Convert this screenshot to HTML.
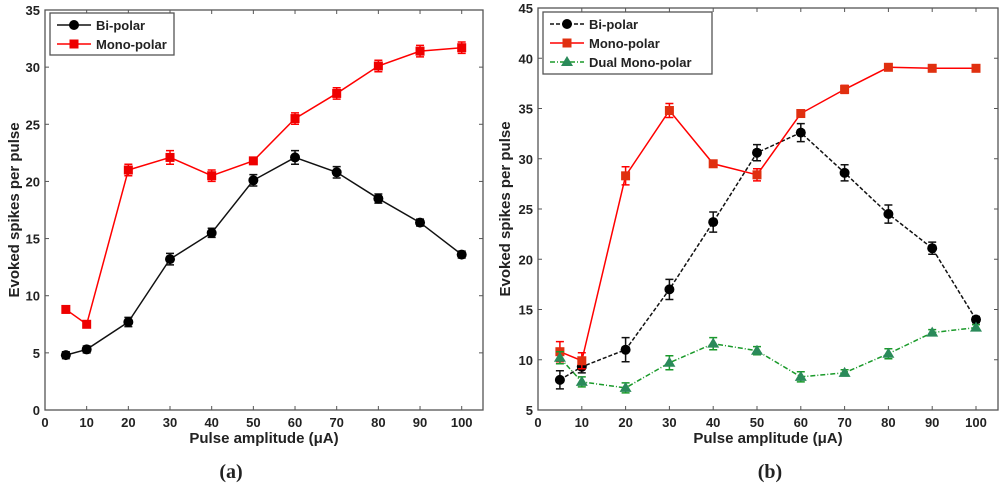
<!DOCTYPE html>
<html><head><meta charset="utf-8"><style>
body{margin:0;background:#fff;width:1000px;height:492px;overflow:hidden}
svg{display:block}
text{font-family:"Liberation Sans",Arial,sans-serif;font-weight:bold;fill:#222}
</style></head><body>
<svg id="c" width="1000" height="492" xmlns="http://www.w3.org/2000/svg"></svg>
<script>
const xVals=[5,10,20,30,40,50,60,70,80,90,100];
const xTicks=[0,10,20,30,40,50,60,70,80,90,100];
const aTicksY=[0,5,10,15,20,25,30,35];
const aBipolar=[4.8,5.3,7.7,13.2,15.5,20.1,22.1,20.8,18.5,16.4,13.6];
const aBipolarErr=[0.3,0.3,0.4,0.5,0.4,0.5,0.6,0.5,0.4,0.3,0.3];
const aMonopolar=[8.8,7.5,21.0,22.1,20.5,21.8,25.5,27.7,30.1,31.4,31.7];
const aMonopolarErr=[0.3,0.3,0.5,0.6,0.5,0.3,0.5,0.5,0.5,0.5,0.5];
const bTicksY=[5,10,15,20,25,30,35,40,45];
const bBipolar=[8.0,9.3,11.0,17.0,23.7,30.6,32.6,28.6,24.5,21.1,14.0];
const bBipolarErr=[0.9,0.6,1.2,1.0,1.0,0.8,0.9,0.8,0.9,0.6,0.3];
const bMonopolar=[10.8,9.9,28.3,34.8,29.5,28.4,34.5,36.9,39.1,39.0,39.0];
const bMonopolarErr=[1.0,0.8,0.9,0.7,0.2,0.6,0.2,0.4,0.2,0.2,0.2];
const bDual=[10.2,7.8,7.2,9.7,11.6,10.9,8.3,8.7,10.6,12.7,13.2];
const bDualErr=[0.6,0.5,0.5,0.7,0.6,0.4,0.5,0.3,0.5,0.3,0.3];
const NS='http://www.w3.org/2000/svg';
const svg=document.getElementById('c');
function mk(tag,attrs,parent){const e=document.createElementNS(NS,tag);for(const k in attrs)e.setAttribute(k,attrs[k]);(parent||svg).appendChild(e);return e;}
function chart(cfg){
  const g=mk('g',{});
  
  
  const X=v=>cfg.x0+(v/100)*(cfg.x100-cfg.x0);
  const Y=v=>cfg.bot-(v-cfg.ymin)/(cfg.ymax-cfg.ymin)*(cfg.bot-cfg.top);
  const box=mk('rect',{x:cfg.left,y:cfg.top,width:cfg.right-cfg.left,height:cfg.bot-cfg.top,fill:'#fff',stroke:'#555','stroke-width':1.3},g);
  
  
  xTicks.forEach(t=>{const x=X(t);
    mk('line',{x1:x,x2:x,y1:cfg.bot,y2:cfg.bot-4,stroke:'#555'},g);
    mk('line',{x1:x,x2:x,y1:cfg.top,y2:cfg.top+4,stroke:'#555'},g);
    const tx=mk('text',{x:x,y:cfg.bot+17,'text-anchor':'middle','font-size':13},g);tx.textContent=t;
    
    });
  cfg.ticksY.forEach(t=>{const y=Y(t);
    mk('line',{x1:cfg.left,x2:cfg.left+4,y1:y,y2:y,stroke:'#555'},g);
    mk('line',{x1:cfg.right,x2:cfg.right-4,y1:y,y2:y,stroke:'#555'},g);
    const tx=mk('text',{x:cfg.left-5,y:y+5,'text-anchor':'end','font-size':13},g);tx.textContent=t;
    
    });
  const xl=mk('text',{x:(cfg.left+cfg.right)/2,y:cfg.bot+33,'text-anchor':'middle','font-size':15},g);xl.textContent='Pulse amplitude (\u03bcA)';
  
  
  const yl=mk('text',{x:0,y:0,'text-anchor':'middle','font-size':15,transform:`translate(${cfg.ylx},${(cfg.top+cfg.bot)/2}) rotate(-90)`},g);yl.textContent='Evoked spikes per pulse';
  
  
  cfg.series.forEach(s=>{
    const sg=mk('g',{},g);
    
    
    mk('polyline',{points:s.vals.map((v,i)=>X(xVals[i])+','+Y(v)).join(' '),fill:'none',stroke:s.color,'stroke-width':1.5,'stroke-dasharray':s.dash||''},sg);
    s.vals.forEach((v,i)=>{const x=X(xVals[i]);const e=s.err[i];
      mk('path',{d:`M${x},${Y(v-e)}V${Y(v+e)}M${x-4},${Y(v+e)}H${x+4}M${x-4},${Y(v-e)}H${x+4}`,stroke:s.color,'stroke-width':1.5,fill:'none'},sg);
      marker(sg,s,x,Y(v));});
  });
  const lg=mk('g',{},g);
  
  
  mk('rect',{x:cfg.lg[0],y:cfg.lg[1],width:cfg.lg[2],height:cfg.lg[3],fill:'#fff',stroke:'#555','stroke-width':1.3},lg);
  cfg.series.forEach((s,i)=>{const y=cfg.lg[1]+12+i*19;const x0=cfg.lg[0]+7;
    const le=mk('g',{},lg);
    
    
    mk('line',{x1:x0,x2:x0+34,y1:y,y2:y,stroke:s.color,'stroke-width':1.5,'stroke-dasharray':s.dash||''},le);
    marker(le,s,x0+17,y);
    const t=mk('text',{x:x0+39,y:y+5,'font-size':13},le);t.textContent=s.label;});
}
function marker(p,s,x,y){
  if(s.shape==='circle')mk('circle',{cx:x,cy:y,r:5,fill:'#000'},p);
  else if(s.shape==='square')mk('rect',{x:x-4.5,y:y-4.5,width:9,height:9,fill:s.fill},p);
  else mk('polygon',{points:`${x},${y-6} ${x+6},${y+4} ${x-6},${y+4}`,fill:s.fill},p);
}
chart({name:'chart-a',left:45,right:483,top:10,bot:410,x0:45,x100:461.7,ymin:0,ymax:35,ticksY:aTicksY,ylx:19,lg:[50,13,124,42],
  series:[{id:'series-bipolar',label:'Bi-polar',vals:aBipolar,err:aBipolarErr,color:'#111',shape:'circle'},
          {id:'series-monopolar',label:'Mono-polar',vals:aMonopolar,err:aMonopolarErr,color:'#f00',shape:'square',fill:'#e00'}]});
chart({name:'chart-b',left:538,right:998,top:8,bot:410,x0:538,x100:976,ymin:5,ymax:45,ticksY:bTicksY,ylx:510,lg:[543,12,169,62],
  series:[{id:'series-bipolar',label:'Bi-polar',vals:bBipolar,err:bBipolarErr,color:'#111',shape:'circle',dash:'4,2'},
          {id:'series-monopolar',label:'Mono-polar',vals:bMonopolar,err:bMonopolarErr,color:'#f00',shape:'square',fill:'#e03010'},
          {id:'series-dual-monopolar',label:'Dual Mono-polar',vals:bDual,err:bDualErr,color:'#1a9a2a',shape:'tri',fill:'#2a8a5a',dash:'5,2,1,2'}]});
[['(a)',231],['(b)',770]].forEach(([t,x])=>{const e=mk('text',{x:x,y:478,'text-anchor':'middle','font-size':20});
  e.setAttribute('style','font-family:"Liberation Serif",serif;font-weight:bold');e.textContent=t;
  
  });
</script>
</body></html>
